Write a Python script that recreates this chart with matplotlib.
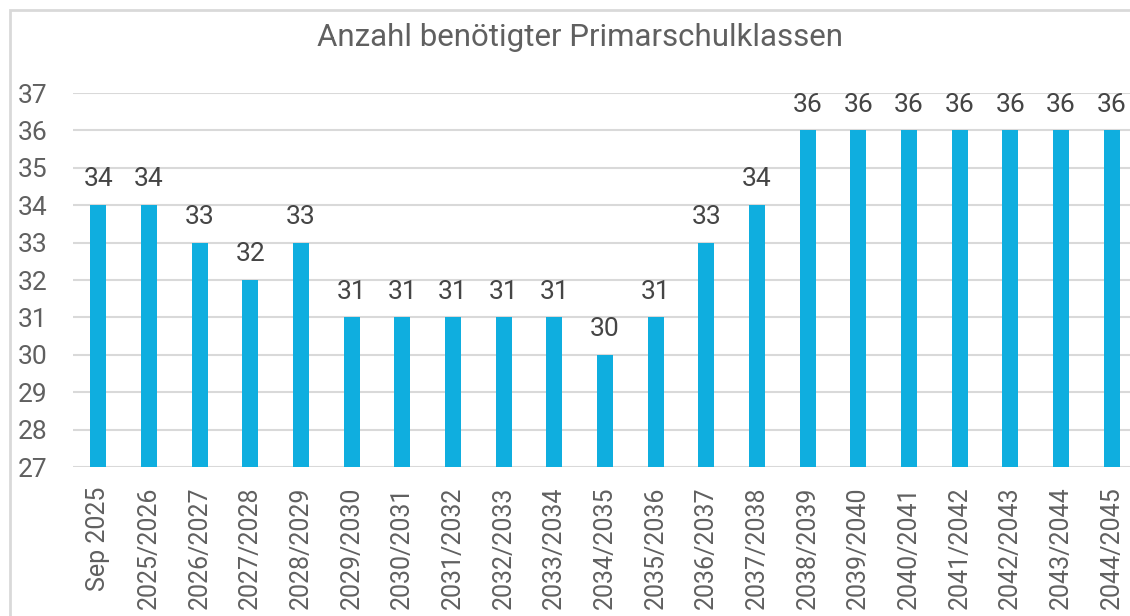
import matplotlib.pyplot as plt
from matplotlib.patches import Rectangle

categories = ["Sep 2025", "2025/2026", "2026/2027", "2027/2028", "2028/2029",
              "2029/2030", "2030/2031", "2031/2032", "2032/2033", "2033/2034",
              "2034/2035", "2035/2036", "2036/2037", "2037/2038", "2038/2039",
              "2039/2040", "2040/2041", "2041/2042", "2042/2043", "2043/2044",
              "2044/2045"]
klassen = [34, 34, 33, 32, 33, 31, 31, 31, 31, 31, 30, 31, 33, 34, 36,
           36, 36, 36, 36, 36, 36]
yticks = list(range(27, 38))

plt.rcParams['font.family'] = ['Roboto', 'DejaVu Sans']
text_col = "#606060"
bar_col = "#0FAEDF"
grid_col = "#D9D9D9"

fig = plt.figure(figsize=(11.3, 6.16), dpi=100)
fig.patches.append(Rectangle((10/1130, -0.1), 1.2, 1 - 10/616 + 0.1,
                             transform=fig.transFigure, fill=False,
                             edgecolor="#D9D9D9", linewidth=2))

ax = fig.add_axes([73/1130, 149/616, 1064/1130, 374/616])
x = range(len(categories))
ax.bar(x, [v - 27 for v in klassen], bottom=27, width=0.32, color=bar_col, zorder=3)

for xi, v in zip(x, klassen):
    ax.annotate(str(v), (xi, v), xytext=(0, 10), textcoords="offset points",
                ha="center", va="bottom", fontsize=19, color="#454545")

ax.set_xlim(-0.5, len(categories) - 0.5)
ax.set_ylim(27, 37)
ax.set_yticks(yticks)
ax.set_xticks(list(x))
ax.set_xticklabels(categories, rotation=90, fontsize=18, color=text_col)
ax.tick_params(axis="y", labelsize=19, labelcolor=text_col, length=0, pad=40)
ax.tick_params(axis="x", length=0, pad=14)
ax.yaxis.grid(True, color=grid_col, linewidth=1.5, zorder=0)
for s in ax.spines.values():
    s.set_visible(False)
for lab in ax.get_yticklabels():
    lab.set_horizontalalignment("left")

fig.text(580/1130, 1 - 37/616, "Anzahl benötigter Primarschulklassen",
         ha="center", va="center", fontsize=22.5, color=text_col)

fig.savefig("out.png", dpi=100)
